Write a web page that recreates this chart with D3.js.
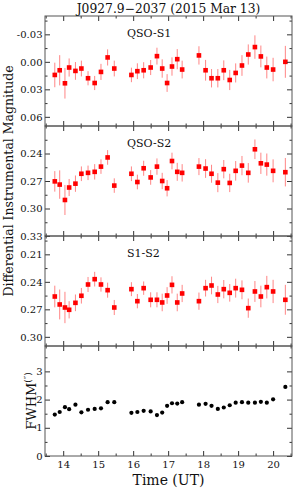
<!DOCTYPE html>
<html>
<head>
<meta charset="utf-8">
<script src="https://cdn.jsdelivr.net/npm/d3@7"></script>
<style>
  body { margin: 0; background: #fff; }
  text { font-family: "DejaVu Serif", serif; fill: #111; }
</style>
</head>
<body>
<div id="chart"></div>
<script>
// 观测时间 (UT)
const times = [13.76, 13.90, 14.05, 14.17, 14.35, 14.52, 14.71, 14.90, 15.08, 15.27, 15.46,
  15.95, 16.12, 16.30, 16.50, 16.68, 16.83, 16.97, 17.11, 17.26, 17.40,
  17.88, 18.07, 18.24, 18.42, 18.59, 18.76, 18.93, 19.11, 19.29, 19.48, 19.65, 19.82, 20.00,
  20.35];

// QSO-S1
const qsoS1 = [0.0143, 0.0092, 0.0234, 0.0062, 0.0099, 0.0073, 0.0179, 0.0231, 0.0110, -0.0048, 0.0073,
  0.0143, 0.0102, 0.0092, 0.0062, -0.0062, 0.0073, 0.0231, 0.0051, -0.0029, 0.0084,
  -0.0070, 0.0092, 0.0179, 0.0179, 0.0092, 0.0198, 0.0121, 0.0040, -0.0080, -0.0161, -0.0059, 0.0062, 0.0084,
  0.0000];
const qsoS1Err = [0.0134, 0.0165, 0.0167, 0.0099, 0.0097, 0.0086, 0.0077, 0.0077, 0.0088, 0.0088, 0.0086,
  0.0079, 0.0086, 0.0088, 0.0082, 0.0092, 0.0100, 0.0097, 0.0100, 0.0110, 0.0097,
  0.0100, 0.0113, 0.0100, 0.0100, 0.0108, 0.0110, 0.0104, 0.0113, 0.0110, 0.0128, 0.0119, 0.0119, 0.0128,
  0.0174];

// QSO-S2
const qsoS2 = [0.2704, 0.2739, 0.2907, 0.2771, 0.2729, 0.2621, 0.2611, 0.2600, 0.2543, 0.2443, 0.2750,
  0.2621, 0.2711, 0.2561, 0.2661, 0.2543, 0.2700, 0.2779, 0.2482, 0.2600, 0.2611,
  0.2543, 0.2564, 0.2621, 0.2718, 0.2571, 0.2721, 0.2589, 0.2532, 0.2611, 0.2354, 0.2507, 0.2521, 0.2589,
  0.2604];
const qsoS2Err = [0.0112, 0.0155, 0.0164, 0.0093, 0.0089, 0.0080, 0.0079, 0.0084, 0.0079, 0.0080, 0.0079,
  0.0080, 0.0080, 0.0082, 0.0080, 0.0089, 0.0089, 0.0089, 0.0091, 0.0098, 0.0095,
  0.0093, 0.0102, 0.0098, 0.0104, 0.0100, 0.0100, 0.0107, 0.0105, 0.0107, 0.0107, 0.0116, 0.0121, 0.0125,
  0.0155];

// S1-S2
const s1S2 = [0.2560, 0.2647, 0.2680, 0.2705, 0.2629, 0.2552, 0.2429, 0.2371, 0.2429, 0.2491, 0.2680,
  0.2480, 0.2611, 0.2469, 0.2596, 0.2596, 0.2625, 0.2549, 0.2433, 0.2625, 0.2527,
  0.2611, 0.2469, 0.2440, 0.2538, 0.2480, 0.2520, 0.2469, 0.2487, 0.2687, 0.2505, 0.2560, 0.2458, 0.2505,
  0.2596];
const s1S2Err = [0.0118, 0.0163, 0.0171, 0.0094, 0.0091, 0.0085, 0.0082, 0.0080, 0.0078, 0.0082, 0.0082,
  0.0076, 0.0078, 0.0073, 0.0082, 0.0082, 0.0096, 0.0091, 0.0094, 0.0096, 0.0094,
  0.0094, 0.0091, 0.0096, 0.0094, 0.0100, 0.0096, 0.0103, 0.0103, 0.0105, 0.0114, 0.0118, 0.0123, 0.0127,
  0.0163];

// 视宁度 FWHM (角秒)
const fwhm = [1.47, 1.56, 1.73, 1.66, 1.82, 1.55, 1.64, 1.67, 1.69, 1.91, 1.91,
  1.53, 1.56, 1.60, 1.58, 1.45, 1.54, 1.78, 1.87, 1.86, 1.91,
  1.82, 1.85, 1.78, 1.67, 1.72, 1.80, 1.89, 1.91, 1.89, 1.89, 1.92, 1.89, 2.01,
  2.45];

// 刻度
const timeTicks = [14, 15, 16, 17, 18, 19, 20];
const timeMinor = [13.5, 14.5, 15.5, 16.5, 17.5, 18.5, 19.5, 20.5];
const s1Ticks = [-0.03, 0.00, 0.03, 0.06];
const s2Ticks = [0.24, 0.27, 0.30, 0.33];
const s12Ticks = [0.21, 0.24, 0.27, 0.30];
const fwhmTicks = [0, 1, 2, 3];

const width = 300, height = 491;
const left = 45, right = 292, top0 = 16, panelH = 110;

const svg = d3.select("#chart").append("svg")
  .attr("width", width).attr("height", height);

const x = d3.scaleLinear().domain([13.48, 20.54]).range([left, right]);

const panels = [
  { name: "QSO-S1", vals: qsoS1, err: qsoS1Err, domain: [-0.05, 0.07], ticks: s1Ticks, fmt: d => d < 0 ? "-" + Math.abs(d).toFixed(2) : d.toFixed(2) },
  { name: "QSO-S2", vals: qsoS2, err: qsoS2Err, domain: [0.21, 0.33], ticks: s2Ticks, fmt: d => d.toFixed(2) },
  { name: "S1-S2", vals: s1S2, err: s1S2Err, domain: [0.19, 0.31], ticks: s12Ticks, fmt: d => d.toFixed(2) },
  { name: null, vals: fwhm, err: null, domain: [0, 3.9], ticks: fwhmTicks, fmt: d => d3.format("d")(d) }
];

panels.forEach((p, i) => {
  const y0 = top0 + i * panelH;
  const y = d3.scaleLinear().domain(p.domain);
  if (i < 3) y.range([y0, y0 + panelH]);      // 星等轴反向
  else y.range([y0 + panelH, y0]);
  // 次刻度：主刻度间隔的一半
  const half = (p.ticks[1] - p.ticks[0]) / 2;
  const lo = Math.min(...p.domain), hi = Math.max(...p.domain);
  const minor = d3.range(-10, 12)
    .map(k => +(p.ticks[0] + (2 * k + 1) * half).toFixed(6))
    .filter(v => v >= lo && v <= hi);

  const g = svg.append("g");

  // 数据
  if (p.err) {
    g.selectAll("line.err").data(times).enter().append("line")
      .attr("x1", d => x(d)).attr("x2", d => x(d))
      .attr("y1", (d, j) => y(p.vals[j] - p.err[j]))
      .attr("y2", (d, j) => y(p.vals[j] + p.err[j]))
      .attr("stroke", "#ff3333").attr("stroke-opacity", 0.6).attr("stroke-width", 1);
    g.selectAll("rect.pt").data(times).enter().append("rect")
      .attr("x", d => x(d) - 2.3).attr("y", (d, j) => y(p.vals[j]) - 2.3)
      .attr("width", 4.6).attr("height", 4.6).attr("fill", "#ff0000");
  } else {
    g.selectAll("circle").data(times).enter().append("circle")
      .attr("cx", d => x(d)).attr("cy", (d, j) => y(p.vals[j]))
      .attr("r", 2.1).attr("fill", "#000");
  }

  // 坐标轴 (刻度朝内)
  const tickCol = "#333";
  const addAxis = (axis, tx, ty) => {
    const a = g.append("g").attr("transform", `translate(${tx},${ty})`).call(axis);
    a.select(".domain").remove();
    a.selectAll("line").attr("stroke", tickCol);
    a.selectAll("text").attr("font-family", "DejaVu Serif").attr("font-size", 10).attr("fill", "#111");
    return a;
  };
  addAxis(d3.axisLeft(y).tickValues(p.ticks).tickSize(-5).tickPadding(2.5).tickFormat(p.fmt), left, 0);
  addAxis(d3.axisLeft(y).tickValues(minor).tickSize(-2.5).tickFormat(""), left, 0);
  addAxis(d3.axisRight(y).tickValues(p.ticks).tickSize(-5).tickFormat(""), right, 0);
  addAxis(d3.axisRight(y).tickValues(minor).tickSize(-2.5).tickFormat(""), right, 0);
  addAxis(d3.axisTop(x).tickValues(timeTicks).tickSize(5).tickFormat(""), 0, y0 + panelH);
  addAxis(d3.axisTop(x).tickValues(timeMinor).tickSize(2.5).tickFormat(""), 0, y0 + panelH);
  addAxis(d3.axisBottom(x).tickValues(timeTicks).tickSize(5).tickFormat(""), 0, y0);
  addAxis(d3.axisBottom(x).tickValues(timeMinor).tickSize(2.5).tickFormat(""), 0, y0);
  if (i === 3) {
    addAxis(d3.axisBottom(x).tickValues(timeTicks).tickSize(0).tickPadding(5).tickFormat(d3.format("d")), 0, y0 + panelH);
  }

  g.append("rect")
    .attr("x", left).attr("y", y0).attr("width", right - left).attr("height", panelH)
    .attr("fill", "none").attr("stroke", "#555").attr("stroke-width", 1);

  if (p.name) {
    g.append("text").attr("x", 127).attr("y", y0 + 21)
      .attr("font-size", 11).text(p.name);
  }
});

// 标题与轴标签
svg.append("text").attr("x", (left + right) / 2).attr("y", 13)
  .attr("text-anchor", "middle").attr("font-size", 12.3)
  .text("J0927.9\u22122037 (2015 Mar 13)");

svg.append("text").attr("x", (left + right) / 2).attr("y", 485)
  .attr("text-anchor", "middle").attr("font-size", 14)
  .text("Time (UT)");

svg.append("text")
  .attr("transform", `translate(12.5,${top0 + 1.5 * panelH}) rotate(-90)`)
  .attr("text-anchor", "middle").attr("font-size", 12.5)
  .text("Differential Instrumental Magnitude");

const fl = svg.append("text")
  .attr("transform", `translate(36,${top0 + 3.5 * panelH}) rotate(-90)`)
  .attr("text-anchor", "middle").attr("font-size", 13);
fl.append("tspan").text("FWHM");
fl.append("tspan").attr("dy", -5).attr("font-size", 9).text("(\u2033)");
</script>
</body>
</html>
